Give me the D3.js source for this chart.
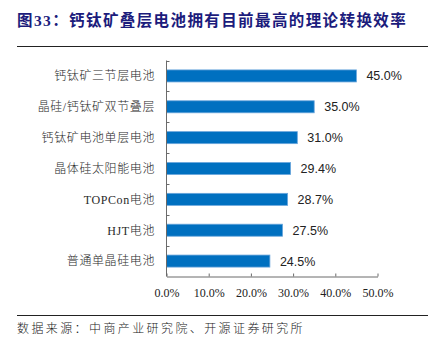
<!DOCTYPE html>
<html>
<head>
<meta charset="utf-8">
<script src="https://cdn.jsdelivr.net/npm/d3@7"></script>
<style>
  html, body { margin: 0; padding: 0; background: #fff; }
  svg { display: block; }
</style>
</head>
<body>
<div id="chart"></div>
<script>
// Cell types and their theoretical conversion efficiency (%)
const categories = [
  "钙钛矿三节层电池",
  "晶硅/钙钛矿双节叠层",
  "钙钛矿电池单层电池",
  "晶体硅太阳能电池",
  "TOPCon电池",
  "HJT电池",
  "普通单晶硅电池"
];
const efficiency = [45.0, 35.0, 31.0, 29.4, 28.7, 27.5, 24.5];
const xTicks = [0, 10, 20, 30, 40, 50];

const titleText = "图33：钙钛矿叠层电池拥有目前最高的理论转换效率";
const sourceText = "数据来源：中商产业研究院、开源证券研究所";

const W = 442, H = 342;
const svg = d3.select("#chart").append("svg")
  .attr("width", W).attr("height", H);

// Title and rule
svg.append("text")
  .attr("x", 17).attr("y", 26)
  .attr("font-family", "'Liberation Serif', 'Noto Sans CJK SC', serif")
  .attr("font-weight", "bold")
  .attr("font-size", 15.5)
  .attr("letter-spacing", 1.4)
  .attr("fill", "#1c1c7c")
  .text(titleText);
svg.append("line")
  .attr("x1", 17).attr("x2", 428).attr("y1", 46.5).attr("y2", 46.5)
  .attr("stroke", "#222").attr("stroke-width", 1);

// Plot area
const plotLeft = 166.5, plotRight = 377.5, plotTop = 60.5, plotBottom = 276.5;

const x = d3.scaleLinear().domain([0, 50]).range([plotLeft, plotRight]);
const pad = 0.61;
const y = d3.scaleBand().domain(categories).range([plotTop, plotBottom])
  .paddingInner(pad).paddingOuter(pad / 2);

const rows = categories.map((c, i) => ({ name: c, value: efficiency[i] }));

// Bars
svg.append("g").selectAll("rect")
  .data(rows).join("rect")
  .attr("x", x(0))
  .attr("y", d => y(d.name))
  .attr("width", d => x(d.value) - x(0))
  .attr("height", y.bandwidth())
  .attr("fill", "#0070c0")
  .attr("stroke", "#6aa6dc")
  .attr("stroke-width", 0.8);

// Value labels
svg.append("g").selectAll("text")
  .data(rows).join("text")
  .attr("x", d => x(d.value) + 10)
  .attr("y", d => y(d.name) + y.bandwidth() / 2)
  .attr("dy", "0.36em")
  .attr("font-family", "'Liberation Sans', Arial, sans-serif")
  .attr("font-size", 12.5)
  .attr("fill", "#222")
  .text(d => d.value.toFixed(1) + "%");

// Category axis (ticks at band boundaries, pointing inward)
const axisColor = "#6b6b6b";
const yAxis = svg.append("g");
yAxis.append("line")
  .attr("x1", plotLeft).attr("x2", plotLeft).attr("y1", plotTop).attr("y2", plotBottom)
  .attr("stroke", axisColor);
const step = y.step();
const boundaries = d3.range(categories.length).map(i => plotTop + i * step);
yAxis.selectAll("line.tick").data(boundaries).join("line")
  .attr("class", "tick")
  .attr("x1", plotLeft).attr("x2", plotLeft + 3)
  .attr("y1", d => Math.round(d) + 0.5).attr("y2", d => Math.round(d) + 0.5)
  .attr("stroke", axisColor);
yAxis.selectAll("text").data(categories).join("text")
  .attr("x", 155)
  .attr("y", d => y(d) + y.bandwidth() / 2)
  .attr("dy", "0.36em")
  .attr("text-anchor", "end")
  .attr("font-family", "'Liberation Serif', 'Noto Sans CJK SC', serif")
  .attr("font-size", 12)
  .attr("font-weight", 300)
  .attr("letter-spacing", 0.6)
  .attr("fill", "#2a2a2a")
  .text(d => d);

// Value axis
const xAxis = svg.append("g")
  .attr("transform", `translate(0,${plotBottom})`)
  .call(d3.axisBottom(x).tickValues(xTicks).tickSizeInner(-3).tickSizeOuter(0)
    .tickPadding(12).tickFormat(d => d.toFixed(1) + "%"));
xAxis.select(".domain").attr("stroke", axisColor);
xAxis.selectAll(".tick line").attr("stroke", axisColor);
xAxis.selectAll(".tick text")
  .attr("font-family", "'Liberation Serif', serif")
  .attr("font-size", 12)
  .attr("fill", "#222");

// Source rule and note
svg.append("line")
  .attr("x1", 17).attr("x2", 428).attr("y1", 315.5).attr("y2", 315.5)
  .attr("stroke", "#222").attr("stroke-width", 1);
svg.append("text")
  .attr("x", 17).attr("y", 333)
  .attr("font-family", "'Noto Sans CJK SC', sans-serif")
  .attr("font-size", 12)
  .attr("font-weight", 300)
  .attr("letter-spacing", 2.4)
  .attr("fill", "#222")
  .text(sourceText);
</script>
</body>
</html>
